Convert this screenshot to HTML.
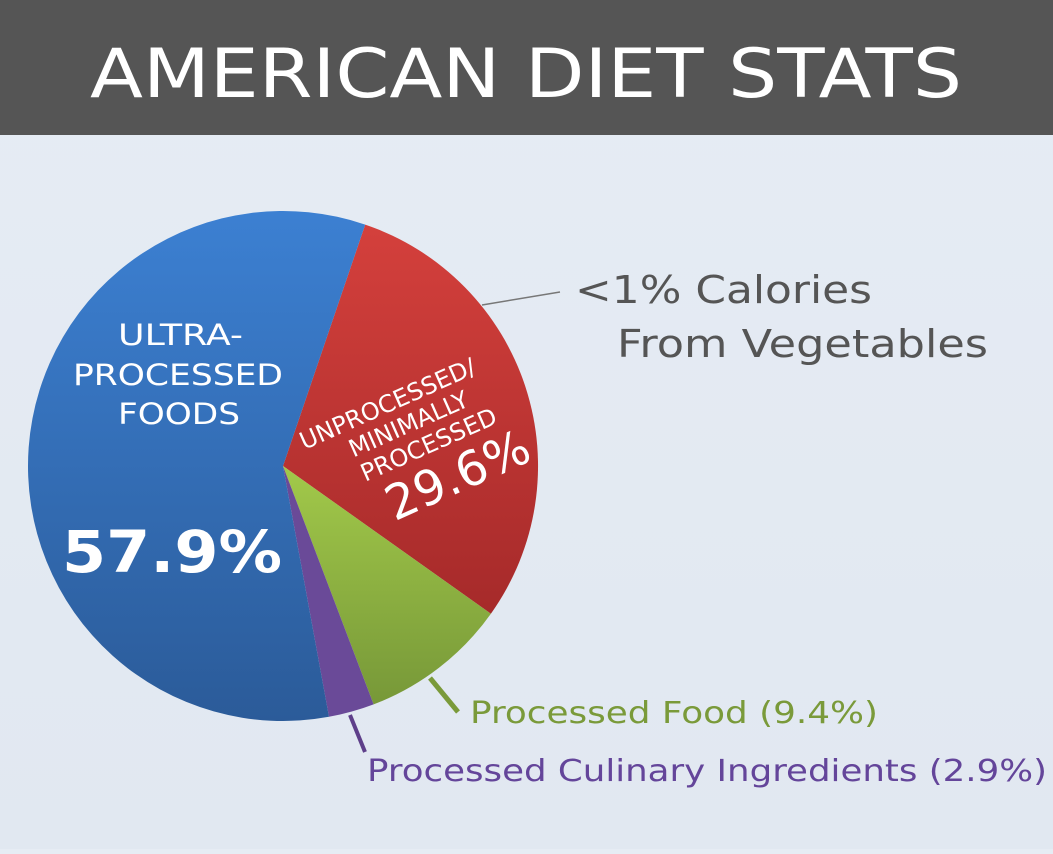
<!DOCTYPE html>
<html><head><style>
html,body{margin:0;padding:0;}
body{width:1053px;height:849px;overflow:hidden;background:linear-gradient(#e6ecf4,#e1e8f1);font-family:"Liberation Sans","DejaVu Sans",sans-serif;}
</style></head><body>
<svg width="1053" height="849" viewBox="0 0 1053 849" xmlns="http://www.w3.org/2000/svg">
<defs>
<linearGradient id="bl" x1="0" y1="0" x2="0" y2="1"><stop offset="0" stop-color="#3c80d2"/><stop offset="1" stop-color="#2b5b99"/></linearGradient>
<linearGradient id="rd" x1="0" y1="0" x2="0" y2="1"><stop offset="0" stop-color="#d4403c"/><stop offset="1" stop-color="#a62a2a"/></linearGradient>
<linearGradient id="gr" x1="0" y1="0" x2="0" y2="1"><stop offset="0" stop-color="#a2c94a"/><stop offset="1" stop-color="#779838"/></linearGradient>
</defs>
<rect x="0" y="0" width="1053" height="135" fill="#555555"/>
<text x="90" y="97" fill="#fff" font-size="68" font-family="DejaVu Sans, sans-serif" textLength="872" lengthAdjust="spacingAndGlyphs">AMERICAN DIET STATS</text>
<path d="M283,466 L365.2,224.6 A255,255 0 0 1 490.9,613.7 Z" fill="url(#rd)"/>
<path d="M283,466 L490.9,613.7 A255,255 0 0 1 373.6,704.4 Z" fill="url(#gr)"/>
<path d="M283,466 L373.6,704.4 A255,255 0 0 1 329.0,716.8 Z" fill="#6a4a98"/>
<path d="M283,466 L329.0,716.8 A255,255 0 1 1 365.2,224.6 Z" fill="url(#bl)"/>
<g fill="#fff" font-family="DejaVu Sans, sans-serif" font-size="29">
<text x="118" y="345" textLength="125" lengthAdjust="spacingAndGlyphs">ULTRA-</text>
<text x="73" y="385" textLength="210" lengthAdjust="spacingAndGlyphs">PROCESSED</text>
<text x="118" y="424" textLength="122" lengthAdjust="spacingAndGlyphs">FOODS</text>
<text x="62" y="572" font-size="58" font-weight="bold" textLength="220" lengthAdjust="spacingAndGlyphs">57.9%</text>
</g>
<g fill="#fff" font-family="DejaVu Sans, sans-serif" text-anchor="middle" transform="rotate(-24 420 440)">
<text x="405" y="402" font-size="24">UNPROCESSED/</text>
<text x="416" y="429" font-size="24">MINIMALLY</text>
<text x="426" y="456" font-size="24">PROCESSED</text>
<text x="440" y="504" font-size="48">29.6%</text>
</g>
<line x1="482" y1="305" x2="560" y2="292" stroke="#777" stroke-width="1.5"/>
<line x1="430" y1="678" x2="458" y2="712" stroke="#7a9a3a" stroke-width="5"/>
<line x1="350" y1="715" x2="365" y2="752" stroke="#5e3f8a" stroke-width="4"/>
<g font-family="DejaVu Sans, sans-serif">
<text x="575" y="303" font-size="38" fill="#555" textLength="297" lengthAdjust="spacingAndGlyphs">&lt;1% Calories</text>
<text x="617" y="357" font-size="38" fill="#555" textLength="371" lengthAdjust="spacingAndGlyphs">From Vegetables</text>
<text x="470" y="723" font-size="30" fill="#7a9a3a" textLength="408" lengthAdjust="spacingAndGlyphs">Processed Food (9.4%)</text>
<text x="367" y="781" font-size="30" fill="#64459a" textLength="680" lengthAdjust="spacingAndGlyphs">Processed Culinary Ingredients (2.9%)</text>
</g>
</svg>
</body></html>
